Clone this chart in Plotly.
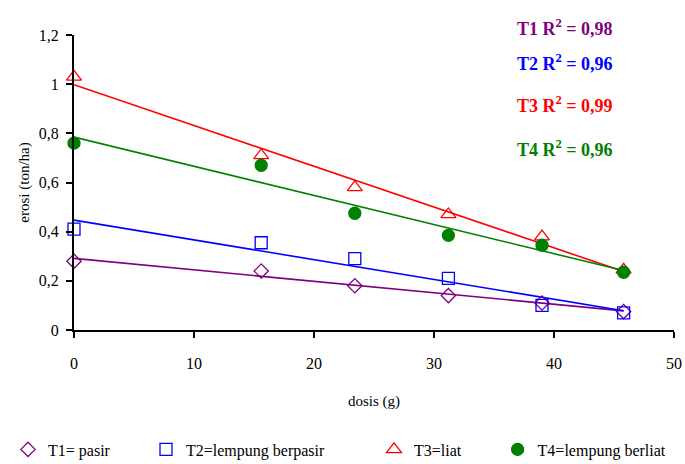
import numpy as np
import plotly.graph_objects as go

dosis = [0, 15.6, 23.4, 31.2, 39.0, 45.8]
t1 = [0.28, 0.24, 0.18, 0.14, 0.11, 0.075]
t2 = [0.41, 0.355, 0.29, 0.21, 0.10, 0.07]
t3 = [1.03, 0.71, 0.58, 0.47, 0.38, 0.245]
t4 = [0.76, 0.67, 0.475, 0.385, 0.345, 0.235]

names = ["T1= pasir", "T2=lempung berpasir", "T3=liat", "T4=lempung berliat"]
colors = ["#800080", "#0000FF", "#FF0000", "#008000"]
symbols = ["diamond-open", "square-open", "triangle-up-open", "circle"]
sizes = [11, 12, 13, 12]
r2_labels = ["T1 R<sup>2</sup> = 0,98", "T2 R<sup>2</sup> = 0,96", "T3 R<sup>2</sup> = 0,99", "T4 R<sup>2</sup> = 0,96"]
r2_y = [1.232, 1.087, 0.917, 0.737]
legend_x = [-0.11, 0.12, 0.5, 0.706]

FONT = "Liberation Serif, serif"

series = [t1, t2, t3, t4]
fig = go.Figure()
x = np.array(dosis)
for s, c in zip(series, colors):
    k, b = np.polyfit(x, np.array(s), 1)
    xs = np.array([x.min(), x.max()])
    fig.add_trace(go.Scatter(x=xs, y=k * xs + b, mode="lines", line=dict(color=c, width=1.6),
                             showlegend=False, hoverinfo="skip", cliponaxis=False))
legend_ids = ["legend", "legend2", "legend3", "legend4"]
for s, n, c, sym, sz, lg in zip(series, names, colors, symbols, sizes, legend_ids):
    fig.add_trace(go.Scatter(x=dosis, y=s, mode="markers", name=n, cliponaxis=False, legend=lg,
                             marker=dict(symbol=sym, color=c, size=sz, line=dict(color=c, width=1.3))))

for t, c, yy in zip(r2_labels, colors, r2_y):
    fig.add_annotation(x=40.9, y=yy / 1.2, xref="x", yref="paper", yanchor="middle",
                       text="<b>" + t + "</b>", showarrow=False,
                       font=dict(family=FONT, size=18, color=c))

legend_common = dict(orientation="h", xanchor="left", y=-0.405, yanchor="middle",
                     font=dict(family=FONT, size=16), itemwidth=30, bgcolor="rgba(0,0,0,0)")
layout_legends = {lg: dict(x=lx, **legend_common) for lg, lx in zip(legend_ids, legend_x)}

fig.update_layout(
    width=685, height=464,
    margin=dict(l=74, r=11, t=35, b=134, autoexpand=False),
    paper_bgcolor="white", plot_bgcolor="white",
    font=dict(family=FONT, size=15, color="black"),
    showlegend=True,
    **layout_legends,
)
fig.update_xaxes(range=[0, 50], tickvals=[0, 10, 20, 30, 40, 50], ticktext=["0", "10", "20", "30", "40", "50"],
                 showgrid=False, zeroline=False, showline=True, linecolor="black", linewidth=2,
                 ticks="outside", ticklen=6, tickwidth=2, tickcolor="black", ticklabelstandoff=12,
                 tickfont=dict(family=FONT, size=16), title=dict(text="dosis (g)", font=dict(family=FONT, size=15), standoff=24))
fig.update_yaxes(range=[0, 1.2], tickvals=[0, 0.2, 0.4, 0.6, 0.8, 1.0, 1.2],
                 ticktext=["0", "0,2", "0,4", "0,6", "0,8", "1", "1,2"],
                 showgrid=False, zeroline=False, showline=True, linecolor="black", linewidth=2,
                 ticks="outside", ticklen=6, tickwidth=2, tickcolor="black", ticklabelstandoff=4,
                 tickfont=dict(family=FONT, size=16), title=dict(text="erosi (ton/ha)", font=dict(family=FONT, size=15), standoff=6))

fig.write_html("out.html")
